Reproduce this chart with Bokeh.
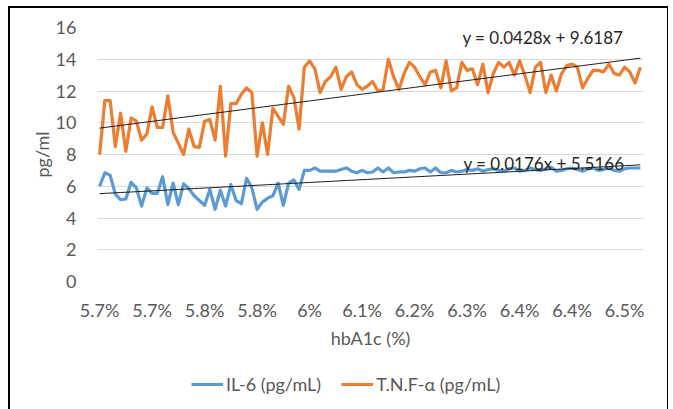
from bokeh.plotting import figure
from bokeh.layouts import column
from bokeh.models import FixedTicker, Legend, LegendItem, Label, ColumnDataSource
from bokeh.embed import file_html
from bokeh.resources import INLINE

# ---- data ----
tick_labels = ["5.7%", "5.7%", "5.8%", "5.8%", "6%", "6.1%", "6.2%", "6.3%", "6.4%", "6.4%", "6.5%"]
tick_positions = [1, 11, 21, 31, 41, 51, 61, 71, 81, 91, 101]
series_names = ["IL-6 (pg/mL)", "T.N.F-α (pg/mL)"]

tnf = [8.0, 11.4, 11.4, 8.5, 10.6, 8.2, 10.3, 10.1, 8.9, 9.3,
       11.0, 9.7, 9.7, 11.7, 9.4, 8.7, 8.0, 9.6, 8.5, 8.45,
       10.1, 10.2, 8.9, 12.3, 7.9, 11.2, 11.2, 11.8, 12.2, 11.9,
       7.9, 10.0, 8.0, 10.9, 10.4, 9.9, 12.3, 11.6, 9.6, 13.5,
       13.9, 13.4, 11.9, 12.6, 12.9, 13.5, 12.1, 12.9, 13.2, 12.4,
       12.1, 12.3, 12.6, 12.0, 12.1, 14.0, 12.9, 12.1, 13.1, 13.8,
       13.5, 12.9, 12.4, 13.2, 13.3, 12.2, 13.9, 12.0, 12.2, 13.8,
       13.3, 13.4, 12.4, 13.7, 11.9, 13.1, 13.8, 13.5, 13.8, 13.0,
       13.9, 13.0, 11.9, 13.5, 13.8, 11.9, 13.0, 12.0, 13.1, 13.6,
       13.7, 13.5, 12.2, 12.8, 13.3, 13.3, 13.2, 13.7, 13.1, 13.0,
       13.5, 13.2, 12.5, 13.5]

il6 = [6.0, 6.85, 6.7, 5.5, 5.15, 5.2, 6.25, 5.9, 4.75, 5.9,
       5.55, 5.55, 6.6, 4.85, 6.2, 4.85, 6.15, 5.85, 5.4, 5.1,
       4.8, 5.8, 4.55, 5.75, 4.75, 6.1, 5.1, 4.9, 6.5, 5.9,
       4.55, 5.0, 5.25, 5.4, 6.2, 4.8, 6.2, 6.4, 5.8, 7.0,
       7.0, 7.15, 6.95, 6.95, 6.95, 6.95, 7.05, 7.15, 6.95, 6.85,
       7.0, 6.85, 6.9, 7.15, 6.9, 7.15, 6.85, 6.9, 6.9, 7.0,
       6.95, 7.1, 7.15, 6.9, 7.15, 6.85, 6.85, 7.0, 6.9, 6.95,
       7.05, 7.0, 7.1, 6.95, 7.05, 7.1, 7.0, 6.95, 7.1, 7.15,
       6.95, 7.0, 7.15, 7.05, 7.0, 7.1, 7.2, 6.95, 7.0, 7.1,
       7.15, 7.05, 6.95, 7.1, 7.15, 7.0, 7.05, 7.15, 7.0, 6.95,
       7.1, 7.15, 7.15, 7.15]

tnf_trend = (0.0428, 9.6187)
il6_trend = (0.0176, 5.5166)

x = list(range(1, len(tnf) + 1))
tnf_fit = [tnf_trend[0] * v + tnf_trend[1] for v in x]
il6_fit = [il6_trend[0] * v + il6_trend[1] for v in x]

src = ColumnDataSource(dict(x=x, tnf=tnf, il6=il6, tnf_fit=tnf_fit, il6_fit=il6_fit))

TEXT = "#595959"
FONT = "Lato"
BLUE = "#5B9BD5"
ORANGE = "#ED7D31"

p = figure(width=657, height=347, output_backend="svg", toolbar_location=None,
           x_range=(0.6, 104.6), y_range=(0, 16),
           min_border_left=87, min_border_right=24, min_border_top=19, min_border_bottom=74)
p.outline_line_color = None
p.background_fill_color = "white"
p.border_fill_color = "white"

p.xgrid.grid_line_color = None
p.ygrid.grid_line_color = "#D9D9D9"
p.ygrid.grid_line_width = 1
p.yaxis.ticker = FixedTicker(ticks=[0, 2, 4, 6, 8, 10, 12, 14, 16])
p.xaxis.ticker = FixedTicker(ticks=tick_positions)
p.xaxis.major_label_overrides = {pos: lab for pos, lab in zip(tick_positions, tick_labels)}

for ax in (p.xaxis[0], p.yaxis[0]):
    ax.axis_line_color = None
    ax.major_tick_line_color = None
    ax.minor_tick_line_color = None
    ax.major_label_text_color = TEXT
    ax.major_label_text_font = FONT
    ax.major_label_text_font_size = "18px"
    ax.axis_label_text_color = TEXT
    ax.axis_label_text_font = FONT
    ax.axis_label_text_font_size = "18px"
    ax.axis_label_text_font_style = "normal"

p.xaxis.axis_label = "hbA1c (%)"
p.yaxis.axis_label = "pg/ml"
p.xaxis.major_label_standoff = 11
p.xaxis.axis_label_standoff = 3
p.yaxis.major_label_standoff = 15
p.yaxis.axis_label_standoff = 0

p.line("x", "il6", source=src, line_color=BLUE, line_width=3.2, line_join="round")
p.line("x", "tnf", source=src, line_color=ORANGE, line_width=3.2, line_join="round")
p.line("x", "tnf_fit", source=src, line_color="#1a1a1a", line_width=1)
p.line("x", "il6_fit", source=src, line_color="#1a1a1a", line_width=1)

p.add_layout(Label(x=70.1, y=15.37, text="y = 0.0428x + 9.6187", text_font=FONT,
                   text_font_size="17px", text_color="#262626", text_baseline="middle"))
p.add_layout(Label(x=70.3, y=7.45, text="y = 0.0176x + 5.5166", text_font=FONT,
                   text_font_size="17px", text_color="#262626", text_baseline="middle"))

# legend strip (series drawn here fall outside its ranges; only the legend shows)
pl = figure(width=657, height=54, output_backend="svg", toolbar_location=None,
            min_border=0, x_range=(-3, -2), y_range=(-3, -2))
pl.axis.visible = False
pl.grid.grid_line_color = None
pl.outline_line_color = None
l1 = pl.line("x", "il6", source=src, line_color=BLUE, line_width=3.2)
l2 = pl.line("x", "tnf", source=src, line_color=ORANGE, line_width=3.2)
legend = Legend(items=[LegendItem(label=series_names[0], renderers=[l1]),
                       LegendItem(label=series_names[1], renderers=[l2])],
                orientation="horizontal", location=(94, 14),
                glyph_width=32, glyph_height=20, label_standoff=3, spacing=20,
                padding=2, margin=0, border_line_color=None, background_fill_alpha=0,
                label_text_font=FONT, label_text_font_size="18px", label_text_color=TEXT)
pl.add_layout(legend, "center")

layout = column(p, pl, spacing=0,
                styles={"margin-left": "8px", "margin-top": "6px",
                        "border-left": "2px solid #000000", "border-top": "2px solid #000000",
                        "border-right": "1px solid #000000"})

open("out.html", "w").write(file_html(layout, INLINE))
